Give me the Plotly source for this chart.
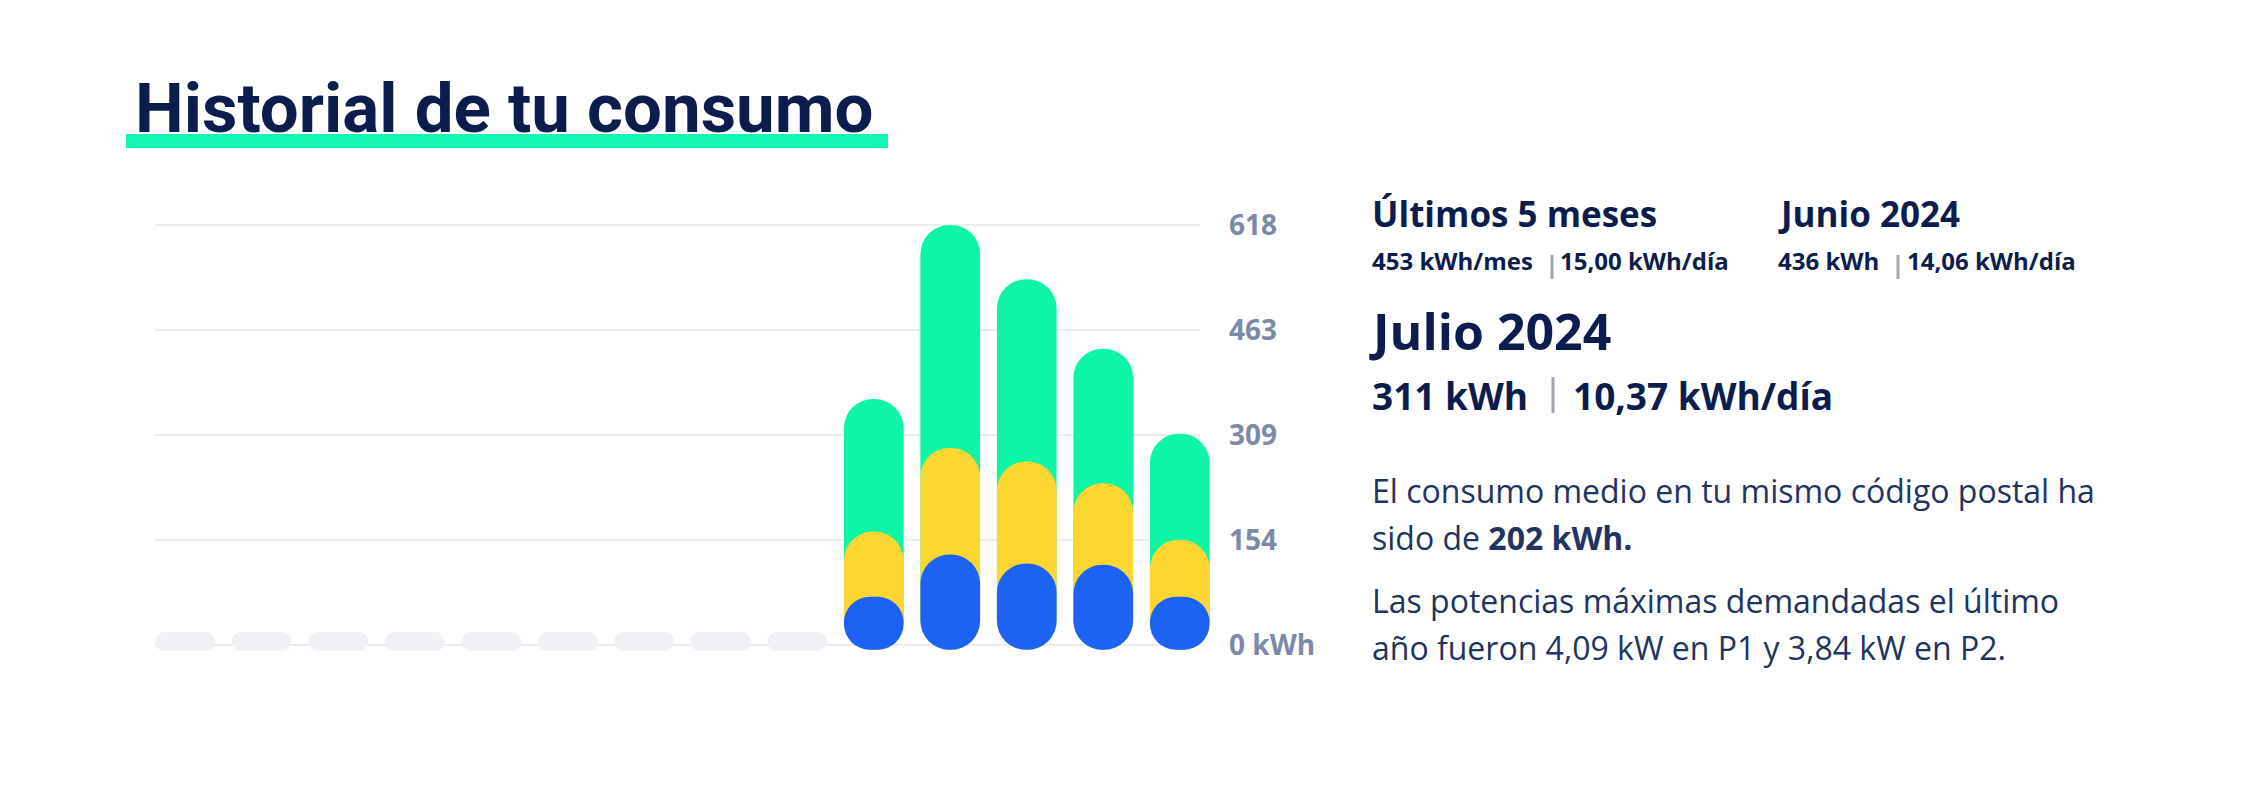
import plotly.graph_objects as go

# ---------------- data ----------------
months = ["jun 2023", "jul 2023", "ago 2023", "sep 2023", "oct 2023", "nov 2023",
          "dic 2023", "ene 2024", "feb 2024", "mar 2024", "abr 2024", "may 2024",
          "jun 2024", "jul 2024"]
placeholder_months = months[:9]
placeholder_height = [28, 28, 28, 28, 28, 28, 28, 28, 28]
real_months = months[9:]
valle = [71, 133, 120, 118, 71]      # blue  (P3)
llano = [96, 157, 150, 120, 84]      # yellow (P2)
punta = [195, 328, 268, 198, 156]    # green (P1)
tick_text = ["0 kWh", "154", "309", "463", "618"]

# ---------------- style ----------------
W, H = 2245, 802
GREEN, YELLOW, BLUE = "#0ff5a6", "#fed631", "#1c63f3"
PLACEHOLDER = "#eff1f4"
NAVY = "#0c1d4d"
PARA = "#213461"
TICK = "#7d8aa6"
CAP_BOTTOM = -7
TITLE_FONT = "Roboto"
FONT = "Open Sans"

blue_top = valle
yellow_top = [a + b for a, b in zip(valle, llano)]
green_top = [a + b + c for a, b, c in zip(valle, llano, punta)]
ymax_val = max(green_top)
tick_vals = [ymax_val * i / 4 for i in range(5)]

fig = go.Figure()

# placeholder months (no data)
fig.add_trace(go.Bar(x=placeholder_months, y=placeholder_height,
                     base=[-9] * len(placeholder_months),
                     marker=dict(color=PLACEHOLDER, cornerradius=10, line_width=0),
                     hoverinfo="skip", showlegend=False))

# overlaid capsules: total (green), valle+llano (yellow), valle (blue)
for tops, col in [(green_top, GREEN), (yellow_top, YELLOW), (blue_top, BLUE)]:
    fig.add_trace(go.Bar(x=real_months, y=[t - CAP_BOTTOM for t in tops],
                         base=[CAP_BOTTOM] * len(tops),
                         marker=dict(color=col, cornerradius="50%", line_width=0),
                         hoverinfo="skip", showlegend=False))

# axis mapping: 0 -> 645 px, max -> 225 px
px_per_unit = (645 - 225) / ymax_val
ymin = -(H - 645) / px_per_unit
ymax = ymin + H / px_per_unit

shapes = []
for v in tick_vals:
    shapes.append(dict(type="line", xref="x domain", yref="y", x0=0.0075, x1=0.983,
                       y0=v, y1=v, line=dict(color="#ececef", width=2), layer="below"))
# title underline
shapes.append(dict(type="rect", xref="paper", yref="paper",
                   x0=126 / W, x1=888 / W, y0=1 - 148 / H, y1=1 - 134 / H,
                   fillcolor="#14f5b4", line_width=0, layer="below"))
# separators
for (x, y0, y1) in [(1552, 255, 279), (1898, 255, 279), (1553, 377, 413)]:
    shapes.append(dict(type="line", xref="paper", yref="paper",
                       x0=x / W, x1=x / W, y0=1 - y1 / H, y1=1 - y0 / H,
                       line=dict(color="#a3a6b0", width=3)))

annotations = []


def ann(text, x, baseline, size, weight, color=NAVY, family=FONT, k=0.38):
    annotations.append(dict(text=text, xref="paper", yref="paper",
                            x=x / W, y=1 - (baseline - k * size) / H,
                            xanchor="left", yanchor="middle", showarrow=False,
                            font=dict(family=family, size=size, color=color, weight=weight)))


ann("Historial de tu consumo", 133, 132, 69, 700, family=TITLE_FONT, k=0.34)
ann("Últimos 5 meses", 1370, 227, 35, 700)
ann("453 kWh/mes", 1370, 270, 24, 700)
ann("15,00 kWh/día", 1558, 270, 24, 700)
ann("Junio 2024", 1776, 227, 35, 700)
ann("436 kWh", 1776, 270, 24, 700)
ann("14,06 kWh/día", 1905, 270, 24, 700)
ann("Julio 2024", 1367, 350, 50, 700)
ann("311 kWh", 1370, 410, 37, 700)
ann("10,37 kWh/día", 1571, 410, 37, 700)
ann("El consumo medio en tu mismo código postal ha", 1370, 503, 32, 400, PARA)
ann("sido de <b>202 kWh.</b>", 1370, 550, 32, 400, PARA)
ann("Las potencias máximas demandadas el último", 1370, 613, 32, 400, PARA)
ann("año fueron 4,09 kW en P1 y 3,84 kW en P2.", 1370, 660, 32, 400, PARA)

fig.update_layout(
    width=W, height=H, margin=dict(l=0, r=0, t=0, b=0),
    paper_bgcolor="white", plot_bgcolor="white",
    barmode="overlay", bargap=0.22,
    shapes=shapes, annotations=annotations,
    xaxis=dict(domain=[147 / W, 1218 / W], type="category",
               categoryorder="array", categoryarray=months,
               range=[-0.5, len(months) - 0.5],
               showticklabels=False, showgrid=False, zeroline=False, showline=False,
               fixedrange=True),
    yaxis=dict(domain=[0, 1], range=[ymin, ymax], side="right",
               tickvals=tick_vals, ticktext=tick_text, ticks="",
               ticklabelstandoff=10,
               tickfont=dict(family="Open Sans", size=28, color=TICK, weight=700),
               showgrid=False, zeroline=False, showline=False, fixedrange=True),
)

fig.write_html("out.html")
